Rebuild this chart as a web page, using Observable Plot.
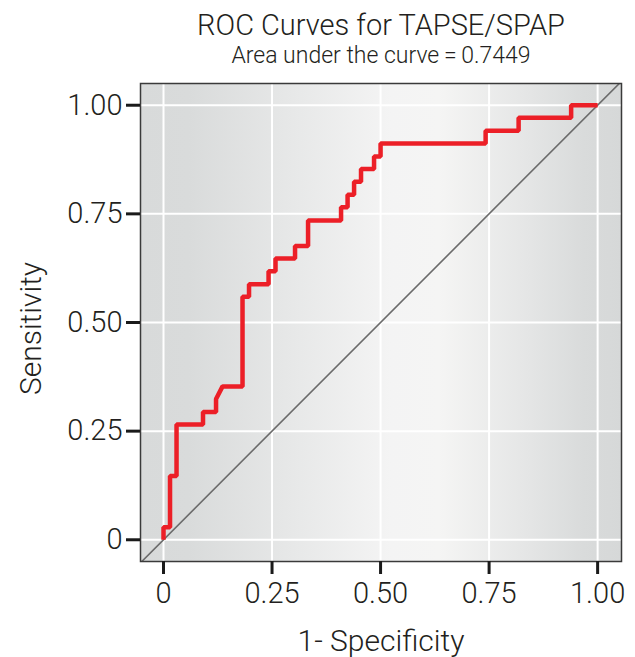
<!DOCTYPE html>
<html>
<head>
<meta charset="utf-8">
<script src="https://cdn.jsdelivr.net/npm/d3@7"></script>
<script src="https://cdn.jsdelivr.net/npm/@observablehq/plot@0.6"></script>
<style>
  html, body { margin: 0; padding: 0; background: #fff; }
  #chart svg { display: block; }
</style>
</head>
<body>
<div id="chart"></div>
<script>
// ROC curve vertices (1 - specificity, sensitivity)
const fpr = [0, 0, 0.015, 0.015, 0.030, 0.030, 0.091, 0.091, 0.121, 0.121, 0.136, 0.182, 0.182, 0.197, 0.197, 0.242, 0.242, 0.258, 0.258, 0.303, 0.303, 0.333, 0.333, 0.409, 0.409, 0.424, 0.424, 0.439, 0.439, 0.455, 0.455, 0.485, 0.485, 0.5, 0.5, 0.742, 0.742, 0.818, 0.818, 0.939, 0.939, 1];
const tpr = [0, 0.029, 0.029, 0.147, 0.147, 0.265, 0.265, 0.294, 0.294, 0.324, 0.353, 0.353, 0.559, 0.559, 0.588, 0.588, 0.618, 0.618, 0.647, 0.647, 0.676, 0.676, 0.735, 0.735, 0.765, 0.765, 0.794, 0.794, 0.824, 0.824, 0.853, 0.853, 0.882, 0.882, 0.912, 0.912, 0.941, 0.941, 0.971, 0.971, 1, 1];
const tickValues = [0, 0.25, 0.5, 0.75, 1];
const tickLabels = ["0", "0.25", "0.50", "0.75", "1.00"];
const titleText = "ROC Curves for TAPSE/SPAP";
const subtitleText = "Area under the curve\u2009=\u20090.7449";
const xLabel = "1- Specificity";
const yLabel = "Sensitivity";

const xDomain = [-0.053, 1.055];
const yDomain = [-0.05, 1.05];

const roc = fpr.map((x, i) => ({x, y: tpr[i]}));
const diagLo = Math.min(xDomain[0], yDomain[0]);
const diagHi = Math.max(xDomain[1], yDomain[1]);
const diagonal = [{x: diagLo, y: diagLo}, {x: diagHi, y: diagHi}];
const fmt = (d) => tickLabels[tickValues.indexOf(d)];

const FONT = "Roboto, 'Liberation Sans', sans-serif";
const INK = "#231f20";

const svg = Plot.plot({
  width: 635,
  height: 657,
  marginLeft: 140,
  marginRight: 14,
  marginTop: 83,
  marginBottom: 96,
  style: {fontFamily: FONT, fontWeight: 300, color: INK, background: "#fff", overflow: "visible"},
  x: {domain: xDomain},
  y: {domain: yDomain},
  marks: [
    Plot.frame({fill: "url(#bgGrad)", stroke: null}),
    Plot.gridX(tickValues, {stroke: "#fff", strokeOpacity: 1, strokeWidth: 2}),
    Plot.gridY(tickValues, {stroke: "#fff", strokeOpacity: 1, strokeWidth: 2}),
    Plot.line(diagonal, {x: "x", y: "y", stroke: "#6b6b6b", strokeWidth: 1.6, clip: true}),
    Plot.line(roc, {x: "x", y: "y", stroke: "#ec1f27", strokeWidth: 4.5, strokeLinejoin: "miter", strokeLinecap: "butt"}),
    Plot.frame({stroke: "#3a3a3a", strokeWidth: 1.5}),
    Plot.axisX(tickValues, {tickFormat: fmt, tickSize: 13, tickPadding: 8, strokeWidth: 3, stroke: "#1a1a1a", fontSize: 29, fill: INK, label: null}),
    Plot.axisY(tickValues, {tickFormat: fmt, tickSize: 14, tickPadding: 4, strokeWidth: 3, stroke: "#1a1a1a", fontSize: 29, fill: INK, label: null}),
    Plot.text([titleText], {frameAnchor: "top", lineAnchor: "middle", dy: -58, fontSize: 29, fill: INK, text: d => d}),
    Plot.text([subtitleText], {frameAnchor: "top", lineAnchor: "middle", dy: -28, fontSize: 23, fill: INK, text: d => d}),
    Plot.text([xLabel], {frameAnchor: "bottom", lineAnchor: "middle", dy: 80, fontSize: 30, fill: INK, text: d => d}),
    Plot.text([yLabel], {frameAnchor: "left", textAnchor: "middle", lineAnchor: "middle", dx: -109, dy: 6, rotate: -90, fontSize: 30, fill: INK, text: d => d})
  ]
});

const defs = d3.select(svg).insert("defs", ":first-child");
const grad = defs.append("linearGradient").attr("id", "bgGrad").attr("x1", "0%").attr("x2", "100%").attr("y1", "0%").attr("y2", "0%");
[["0%", "#d8dada"], ["10%", "#d9dbdb"], ["30%", "#e6e7e7"], ["52%", "#f4f4f4"], ["62%", "#f5f5f4"], ["80%", "#e5e6e6"], ["92%", "#d9dbdb"], ["100%", "#d6d8d8"]]
  .forEach(([o, c]) => grad.append("stop").attr("offset", o).attr("stop-color", c));

document.getElementById("chart").appendChild(svg);
</script>
</body>
</html>
